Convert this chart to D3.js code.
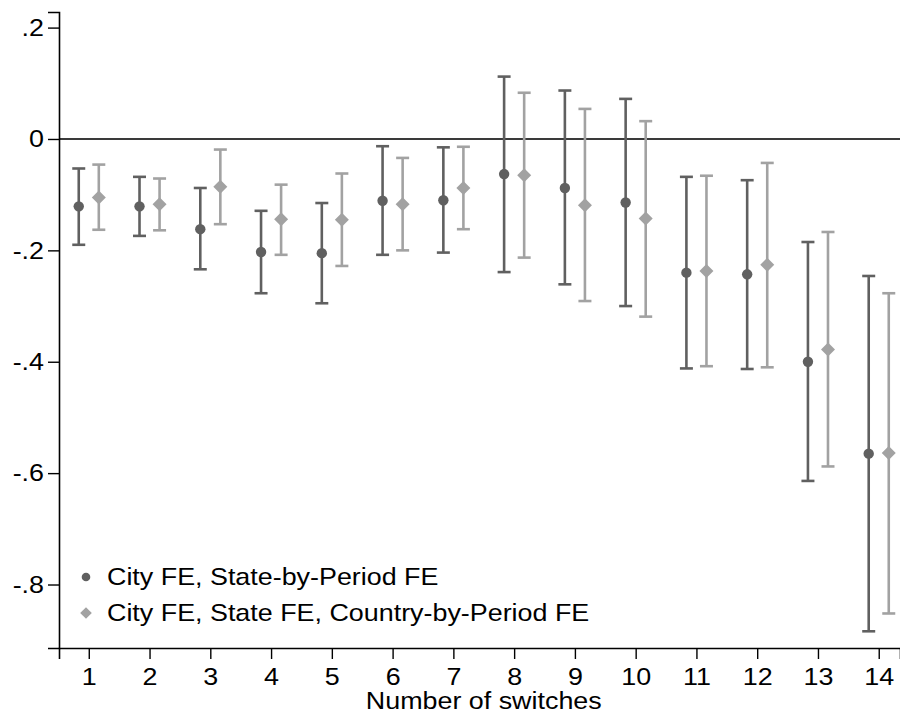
<!DOCTYPE html>
<html>
<head>
<meta charset="utf-8">
<script src="https://cdn.jsdelivr.net/npm/d3@7"></script>
<style>
  html, body { margin: 0; padding: 0; background: #fff; }
  svg { display: block; font-family: "Liberation Sans", Arial, Helvetica, sans-serif; }
</style>
</head>
<body>
<svg id="chart" width="900" height="715"></svg>
<script>
// Number of switches (x categories)
const switches = [1, 2, 3, 4, 5, 6, 7, 8, 9, 10, 11, 12, 13, 14];

// Series A: City FE, State-by-Period FE
const estA = [-0.121, -0.121, -0.162, -0.203, -0.205, -0.111, -0.110, -0.063, -0.088, -0.114, -0.240, -0.243, -0.400, -0.565];
const loA  = [-0.190, -0.174, -0.234, -0.277, -0.295, -0.208, -0.204, -0.239, -0.261, -0.300, -0.412, -0.413, -0.614, -0.884];
const hiA  = [-0.053, -0.068, -0.088, -0.129, -0.115, -0.013, -0.015, 0.112, 0.087, 0.072, -0.068, -0.074, -0.185, -0.246];

// Series B: City FE, State FE, Country-by-Period FE
const estB = [-0.105, -0.117, -0.086, -0.144, -0.145, -0.117, -0.088, -0.065, -0.119, -0.143, -0.237, -0.226, -0.378, -0.564];
const loB  = [-0.163, -0.164, -0.153, -0.208, -0.228, -0.200, -0.162, -0.213, -0.291, -0.319, -0.408, -0.410, -0.588, -0.852];
const hiB  = [-0.046, -0.071, -0.019, -0.082, -0.062, -0.034, -0.014, 0.083, 0.054, 0.032, -0.066, -0.043, -0.167, -0.277];

const yTicks = [-0.8, -0.6, -0.4, -0.2, 0, 0.2];
const legendLabels = ["City FE, State-by-Period FE", "City FE, State FE, Country-by-Period FE"];
const axisTitle = "Number of switches";

const darkGrey = "#606060";
const lightGrey = "#a2a2a2";
const fontSize = 24;
const stretch = 1.12;   // wide Helvetica-like lettering

const svg = d3.select("#chart");

const plotLeft = 59, plotRight = 900, plotTop = 12, plotBottom = 648;

const x = d3.scaleLinear().domain([0.51, 14.35]).range([plotLeft, plotRight]);
const y = d3.scaleLinear().domain([-0.914, 0.228]).range([plotBottom, plotTop]);

const shift = 0.165;

// Square diamond (rotated square) marker
function diamondPath(h) {
  return `M0,${-h}L${h},0L0,${h}L${-h},0Z`;
}
function markerPath(shape, r) {
  return shape === "diamond" ? diamondPath(r) : d3.symbol().type(d3.symbolCircle).size(Math.PI * r * r)();
}

// Places a horizontally stretched text at (px, py)
function wideText(sel, px, py) {
  return sel.attr("x", px / stretch).attr("y", py)
    .attr("transform", `scale(${stretch},1)`)
    .attr("font-size", fontSize).attr("fill", "#000");
}

// Reference line at zero
svg.append("line")
  .attr("x1", plotLeft).attr("x2", plotRight)
  .attr("y1", y(0)).attr("y2", y(0))
  .attr("stroke", "#3a3a3a").attr("stroke-width", 2);

// Axes
const fmt = d => d === 0 ? "0" : d3.format(".1f")(d).replace("\u2212", "-").replace("0.", ".");

const yAxis = svg.append("g")
  .attr("transform", `translate(${plotLeft},0)`)
  .call(d3.axisLeft(y).tickValues(yTicks).tickFormat(fmt).tickSize(11).tickPadding(4));
yAxis.select(".domain").attr("stroke", "#000").attr("stroke-width", 1.6);
yAxis.selectAll(".tick line").attr("stroke", "#000").attr("stroke-width", 1.4);
yAxis.selectAll(".tick text")
  .attr("x", -15 / stretch)
  .attr("transform", `scale(${stretch},1)`)
  .attr("font-size", fontSize).attr("fill", "#000")
  .attr("font-family", "'Liberation Sans', Arial, sans-serif");

const xAxis = svg.append("g")
  .attr("transform", `translate(0,${plotBottom})`)
  .call(d3.axisBottom(x).tickValues(switches).tickFormat(d3.format("d")).tickSize(11).tickPadding(8.5));
xAxis.select(".domain").attr("stroke", "#000").attr("stroke-width", 1.6);
xAxis.selectAll(".tick line").attr("stroke", "#000").attr("stroke-width", 1.4);
xAxis.selectAll(".tick text")
  .attr("transform", `scale(${stretch},1)`)
  .attr("font-size", fontSize).attr("fill", "#000")
  .attr("font-family", "'Liberation Sans', Arial, sans-serif");

svg.append("text")
  .attr("text-anchor", "middle")
  .call(wideText, (x(1) + x(14)) / 2, 709)
  .text(axisTitle);

// Error bars and point estimates
function drawSeries(est, lo, hi, dx, color, shape, r) {
  const g = svg.append("g");
  const rows = switches.map((s, i) => ({ s, est: est[i], lo: lo[i], hi: hi[i] }));
  const capHalf = 6.5;
  g.selectAll("line.ci").data(rows).join("line")
    .attr("x1", d => x(d.s + dx)).attr("x2", d => x(d.s + dx))
    .attr("y1", d => y(d.lo)).attr("y2", d => y(d.hi))
    .attr("stroke", color).attr("stroke-width", 2.6);
  g.selectAll("line.capLo").data(rows).join("line")
    .attr("x1", d => x(d.s + dx) - capHalf).attr("x2", d => x(d.s + dx) + capHalf)
    .attr("y1", d => y(d.lo)).attr("y2", d => y(d.lo))
    .attr("stroke", color).attr("stroke-width", 2.6);
  g.selectAll("line.capHi").data(rows).join("line")
    .attr("x1", d => x(d.s + dx) - capHalf).attr("x2", d => x(d.s + dx) + capHalf)
    .attr("y1", d => y(d.hi)).attr("y2", d => y(d.hi))
    .attr("stroke", color).attr("stroke-width", 2.6);
  g.selectAll("path.pt").data(rows).join("path")
    .attr("transform", d => `translate(${x(d.s + dx)},${y(d.est)})`)
    .attr("d", markerPath(shape, r))
    .attr("fill", color);
}

drawSeries(estA, loA, hiA, -shift, darkGrey, "circle", 5.2);
drawSeries(estB, loB, hiB, shift, lightGrey, "diamond", 7);

// Legend
const legend = svg.append("g");
const legendItems = [
  { label: legendLabels[0], color: darkGrey, shape: "circle", r: 4.3, cy: 577 },
  { label: legendLabels[1], color: lightGrey, shape: "diamond", r: 5.8, cy: 613 }
];
legendItems.forEach(it => {
  legend.append("path")
    .attr("transform", `translate(86,${it.cy})`)
    .attr("d", markerPath(it.shape, it.r))
    .attr("fill", it.color);
  legend.append("text")
    .attr("dy", "0.35em")
    .call(wideText, 107, it.cy)
    .text(it.label);
});
</script>
</body>
</html>
